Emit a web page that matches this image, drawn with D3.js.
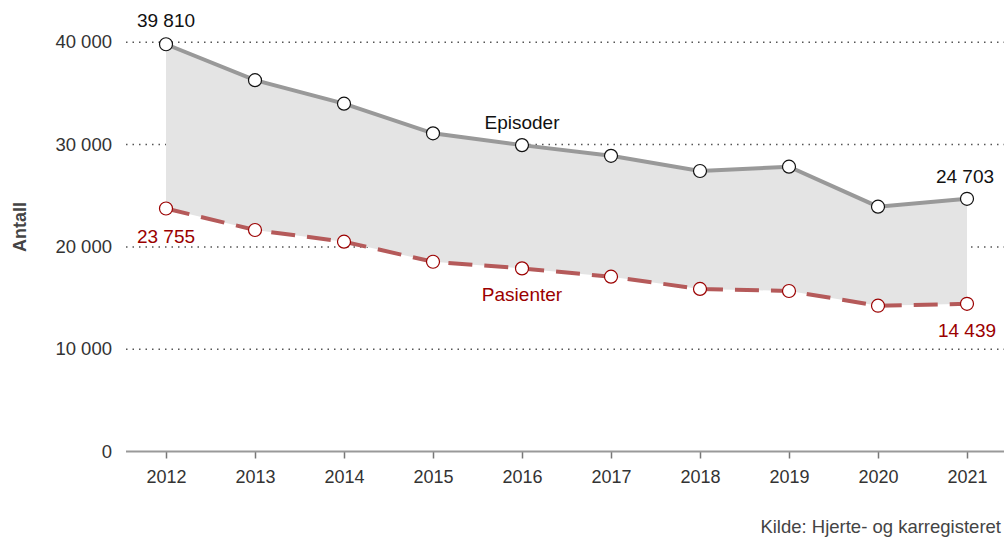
<!DOCTYPE html>
<html>
<head>
<meta charset="utf-8">
<script src="https://cdn.jsdelivr.net/npm/d3@7"></script>
<style>
  body { margin: 0; background: #fff; }
  svg { display: block; font-family: "Liberation Sans", Arial, sans-serif; }
</style>
</head>
<body>
<div id="content"></div>
<script>
const years = [2012, 2013, 2014, 2015, 2016, 2017, 2018, 2019, 2020, 2021];
const episoder = [39810, 36300, 34000, 31100, 29950, 28900, 27420, 27840, 23930, 24703];
const pasienter = [23755, 21650, 20510, 18550, 17900, 17090, 15890, 15690, 14250, 14439];
const yTicks = [0, 10000, 20000, 30000, 40000];

const width = 1004, height = 540;

const svg = d3.select('#content').append('svg')
  .attr('width', width)
  .attr('height', height);

let x = d3.scalePoint()
  .domain(years)
  .range([166, 967]);

let y = d3.scaleLinear()
  .domain([0, 40000])
  .range([451.5, 42.3]);

const fmt = v => d3.format(',')(v).replace(/,/g, ' ');

// Gridlines (dotted)
svg.append('g')
  .selectAll('line')
  .data(yTicks.filter(d => d > 0))
  .join('line')
  .attr('x1', 126)
  .attr('x2', width)
  .attr('y1', d => y(d))
  .attr('y2', d => y(d))
  .attr('stroke', '#555')
  .attr('stroke-width', 1.5)
  .attr('stroke-dasharray', '1.5,5');

// Y tick labels
svg.append('g')
  .selectAll('text')
  .data(yTicks)
  .join('text')
  .attr('x', 112)
  .attr('y', d => y(d) + 6)
  .attr('text-anchor', 'end')
  .attr('font-size', 18.5)
  .attr('fill', '#333')
  .text(d => fmt(d));

// X axis
let xAxis = d3.axisBottom(x).tickSize(7).tickPadding(12);
let gx = svg.append('g')
  .attr('transform', `translate(0,${y(0)})`)
  .call(xAxis);
gx.select('.domain').remove();
gx.selectAll('.tick line').attr('stroke', '#777').attr('stroke-width', 1.5);
gx.selectAll('.tick text')
  .attr('font-size', 18)
  .attr('font-family', '"Liberation Sans", Arial, sans-serif')
  .attr('fill', '#333');
svg.append('line')
  .attr('x1', 126)
  .attr('x2', width)
  .attr('y1', y(0))
  .attr('y2', y(0))
  .attr('stroke', '#999')
  .attr('stroke-width', 2);

// Area between series
const rows = years.map((yr, i) => ({yr, e: episoder[i], p: pasienter[i]}));
let area = d3.area()
  .x(d => x(d.yr))
  .y0(d => y(d.p))
  .y1(d => y(d.e));
svg.append('path')
  .datum(rows)
  .attr('d', area)
  .attr('fill', '#e4e4e4');

// Lines
let line = d3.line().x(d => x(d[0])).y(d => y(d[1]));
svg.append('path')
  .datum(years.map((yr, i) => [yr, episoder[i]]))
  .attr('d', line)
  .attr('fill', 'none')
  .attr('stroke', '#999')
  .attr('stroke-width', 4);
svg.append('path')
  .datum(years.map((yr, i) => [yr, pasienter[i]]))
  .attr('d', line)
  .attr('fill', 'none')
  .attr('stroke', '#b55a5a')
  .attr('stroke-width', 4)
  .attr('stroke-dasharray', '24,12');

// Markers
svg.append('g')
  .selectAll('circle')
  .data(rows)
  .join('circle')
  .attr('cx', d => x(d.yr))
  .attr('cy', d => y(d.e))
  .attr('r', 6.5)
  .attr('fill', '#fff')
  .attr('stroke', '#111')
  .attr('stroke-width', 1.2);
svg.append('g')
  .selectAll('circle')
  .data(rows)
  .join('circle')
  .attr('cx', d => x(d.yr))
  .attr('cy', d => y(d.p))
  .attr('r', 6.5)
  .attr('fill', '#fff')
  .attr('stroke', '#9b0000')
  .attr('stroke-width', 1.2);

// Value labels
const last = years.length - 1;
const labels = [
  {t: fmt(episoder[0]), x: x(years[0]), y: y(episoder[0]) - 17, c: '#111'},
  {t: fmt(episoder[last]), x: x(years[last]) - 2, y: y(episoder[last]) - 16, c: '#111'},
  {t: fmt(pasienter[0]), x: x(years[0]), y: y(pasienter[0]) + 35, c: '#9b0000'},
  {t: fmt(pasienter[last]), x: x(years[last]), y: y(pasienter[last]) + 33, c: '#9b0000'},
  {t: 'Episoder', x: x(2016), y: y(episoder[4]) - 16, c: '#111'},
  {t: 'Pasienter', x: x(2016), y: y(pasienter[4]) + 33, c: '#9b0000'}
];
svg.append('g')
  .selectAll('text')
  .data(labels)
  .join('text')
  .attr('x', d => d.x)
  .attr('y', d => d.y)
  .attr('text-anchor', 'middle')
  .attr('font-size', 19)
  .attr('fill', d => d.c)
  .text(d => d.t);

// Axis title
svg.append('text')
  .attr('transform', 'translate(26,227) rotate(-90)')
  .attr('text-anchor', 'middle')
  .attr('font-size', 18)
  .attr('font-weight', 'bold')
  .attr('fill', '#444')
  .text('Antall');

// Source
svg.append('text')
  .attr('x', 1001)
  .attr('y', 533)
  .attr('text-anchor', 'end')
  .attr('font-size', 18.5)
  .attr('fill', '#444')
  .text('Kilde: Hjerte- og karregisteret');
</script>
</body>
</html>
